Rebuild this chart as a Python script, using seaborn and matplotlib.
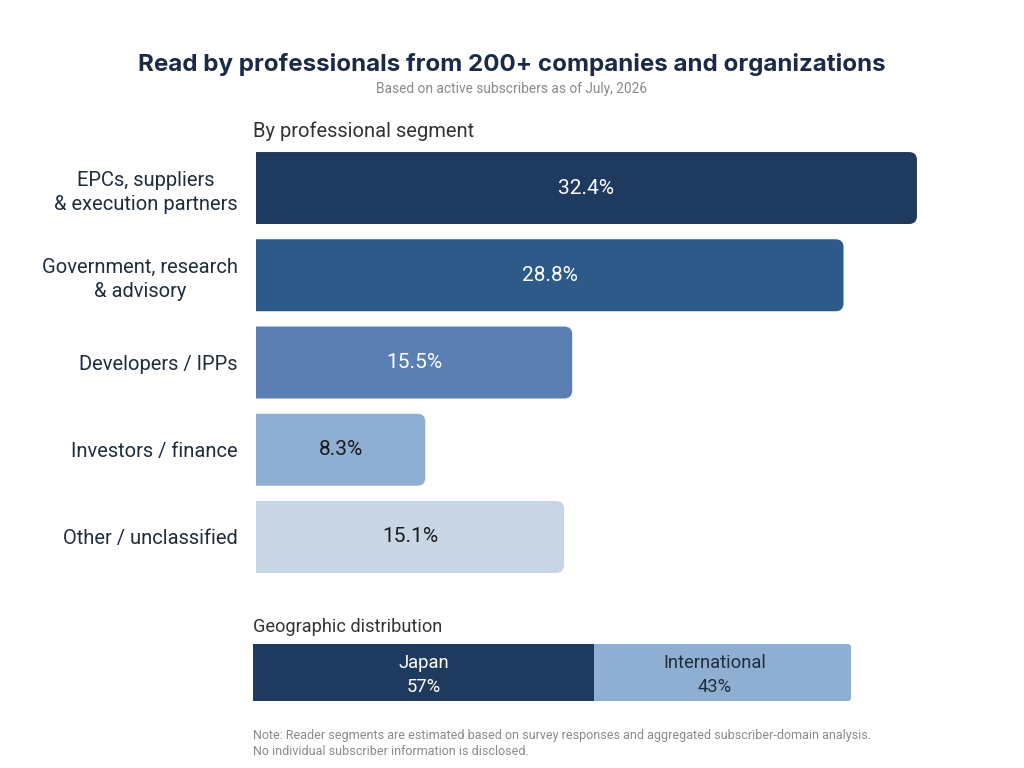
import matplotlib
matplotlib.use("Agg")
import matplotlib.pyplot as plt
import seaborn as sns
import pandas as pd
from matplotlib.patches import PathPatch
from matplotlib.path import Path

categories = ["EPCs, suppliers\n& execution partners", "Government, research\n& advisory",
              "Developers / IPPs", "Investors / finance", "Other / unclassified"]
shares = [32.4, 28.8, 15.5, 8.3, 15.1]
bar_colors = ["#1f3a5f", "#2d5a88", "#5b7fb2", "#8eafd2", "#c7d5e5"]
label_colors = ["white", "white", "white", "#1a1a1a", "#1a1a1a"]

geo_regions = ["Japan", "International"]
geo_shares = [57, 43]
geo_colors = ["#1f3a5f", "#8eafd2"]
geo_text_colors = ["white", "#1f2d3d"]

title = "Read by professionals from 200+ companies and organizations"
subtitle = "Based on active subscribers as of July, 2026"
note_lines = ["Note: Reader segments are estimated based on survey responses and aggregated subscriber-domain analysis.",
              "No individual subscriber information is disclosed."]

sns.set_theme(style="white")
plt.rcParams["font.family"] = ["Roboto", "DejaVu Sans"]

W, H = 1024, 768
fig = plt.figure(figsize=(W / 100, H / 100), dpi=100)
fig.patch.set_facecolor("white")


def fx(px):
    return px / W


def fy(py):
    return 1 - py / H


def right_rounded(x0, y0, w, h, rx, ry, color):
    x1 = x0 + w
    ylo, yhi = min(y0, y0 + h), max(y0, y0 + h)
    verts = [(x0, ylo), (x1 - rx, ylo), (x1, ylo), (x1, ylo + ry),
             (x1, yhi - ry), (x1, yhi), (x1 - rx, yhi), (x0, yhi), (x0, ylo)]
    codes = [Path.MOVETO, Path.LINETO, Path.CURVE3, Path.CURVE3,
             Path.LINETO, Path.CURVE3, Path.CURVE3, Path.LINETO, Path.CLOSEPOLY]
    return PathPatch(Path(verts, codes), facecolor=color, edgecolor="none", lw=0)


# Titles
fig.text(0.5, fy(64.5), title, ha="center", va="center", fontsize=17.4, fontweight="bold",
         family=["Inter", "DejaVu Sans"], color="#1b2a47")
fig.text(0.5, fy(88.5), subtitle, ha="center", va="center", fontsize=9.9, color="#8a8a8a")
fig.text(fx(253), fy(131.5), "By professional segment", ha="left", va="center", fontsize=14.5, color="#333333")

# Main axes
xmax = 34
pxper = 20.4
top, bot = 144.4, 580.6
ax = fig.add_axes([fx(256), fy(bot), fx(xmax * pxper), (bot - top) / H])
df = pd.DataFrame({"cat": categories, "share": shares})
sns.barplot(data=df, y="cat", x="share", hue="cat", palette=bar_colors, orient="h",
            width=0.825, legend=False, ax=ax, saturation=1)
ax.set_xlim(0, xmax)
ax.set_ylim(len(categories) - 0.5, -0.5)
ax.set_xlabel("")
ax.set_ylabel("")
ax.set_xticks([])
for s in ax.spines.values():
    s.set_visible(False)
ax.tick_params(axis="y", length=0, pad=13, labelsize=14.5, labelcolor="#1f2d3d")
for t in ax.get_yticklabels():
    t.set_multialignment("center")
    t.set_linespacing(1.3)

px_y = (bot - top) / len(categories)
r_px = 8
for p, col, lc, val in zip(list(ax.patches), bar_colors, label_colors, shares):
    x, y, w, h = p.get_x(), p.get_y(), p.get_width(), p.get_height()
    p.set_visible(False)
    ax.add_patch(right_rounded(x, y, w, h, r_px / pxper, r_px / px_y, col))
    ax.text(x + w / 2, y + h / 2, f"{val}%", ha="center", va="center", fontsize=15, color=lc)

# Geographic distribution
fig.text(fx(253), fy(627.5), "Geographic distribution", ha="left", va="center", fontsize=13.1, color="#333333")
gax = fig.add_axes([fx(253), fy(701), fx(598), 57 / H])
cum = [sum(geo_shares[:i + 1]) for i in range(len(geo_shares))]
for reg, c, col in reversed(list(zip(geo_regions, cum, geo_colors))):
    sns.barplot(x=[c], y=["geo"], orient="h", color=col, width=1, saturation=1, ax=gax, linewidth=0)
gax.set_xlim(0, 100)
gax.set_ylim(0.5, -0.5)
gax.axis("off")
# round the right end of the outermost segment slightly
outer = gax.patches[0]
outer.set_visible(False)
gax.add_patch(right_rounded(outer.get_x(), outer.get_y(), outer.get_width(), outer.get_height(),
                            3 / 5.98, 3 / 57, geo_colors[-1]))
gax.patches[1].set_zorder(3)
starts = [0] + cum[:-1]
for reg, s0, v, tc in zip(geo_regions, starts, geo_shares, geo_text_colors):
    cx = s0 + v / 2 - (1.3 if reg == "International" else 0)
    gax.text(cx, -0.17, reg, ha="center", va="center", fontsize=13.2, color=tc, zorder=5)
    gax.text(cx, 0.26, f"{v}%", ha="center", va="center", fontsize=13.2, color=tc, zorder=5)

fig.text(fx(253), fy(735.5), note_lines[0], ha="left", va="center", fontsize=9, color="#8a8a8a")
fig.text(fx(253), fy(751.5), note_lines[1], ha="left", va="center", fontsize=9, color="#8a8a8a")

fig.savefig("out.png", dpi=100, facecolor="white")
